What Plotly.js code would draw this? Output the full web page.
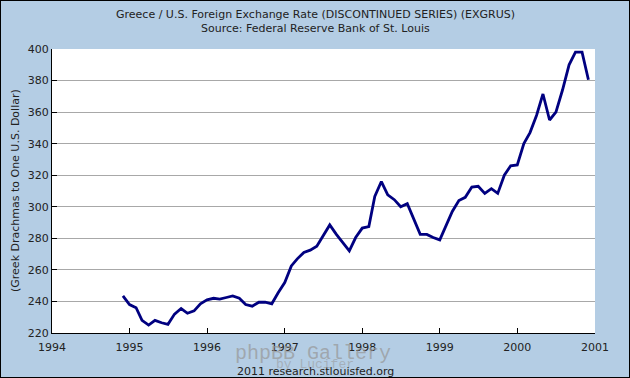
<!DOCTYPE html>
<html>
<head>
<meta charset="utf-8">
<script src="https://cdn.plot.ly/plotly-3.0.1.min.js"></script>
<style>
  html, body { margin: 0; padding: 0; background: #ffffff; }
  #chart { width: 628px; height: 376px; border: 1px solid #000000; }
</style>
</head>
<body>
<div id="chart"></div>
<script>
// Monthly observations, Dec 1994 - Dec 2000
const months = [
  "1994-12-01",
  "1995-01-01","1995-02-01","1995-03-01","1995-04-01","1995-05-01","1995-06-01",
  "1995-07-01","1995-08-01","1995-09-01","1995-10-01","1995-11-01","1995-12-01",
  "1996-01-01","1996-02-01","1996-03-01","1996-04-01","1996-05-01","1996-06-01",
  "1996-07-01","1996-08-01","1996-09-01","1996-10-01","1996-11-01","1996-12-01",
  "1997-01-01","1997-02-01","1997-03-01","1997-04-01","1997-05-01","1997-06-01",
  "1997-07-01","1997-08-01","1997-09-01","1997-10-01","1997-11-01","1997-12-01",
  "1998-01-01","1998-02-01","1998-03-01","1998-04-01","1998-05-01","1998-06-01",
  "1998-07-01","1998-08-01","1998-09-01","1998-10-01","1998-11-01","1998-12-01",
  "1999-01-01","1999-02-01","1999-03-01","1999-04-01","1999-05-01","1999-06-01",
  "1999-07-01","1999-08-01","1999-09-01","1999-10-01","1999-11-01","1999-12-01",
  "2000-01-01","2000-02-01","2000-03-01","2000-04-01","2000-05-01","2000-06-01",
  "2000-07-01","2000-08-01","2000-09-01","2000-10-01","2000-11-01","2000-12-01"
];
const drachmasPerDollar = [
  243.5,
  238, 236, 228, 225, 228, 226.5, 225.5, 232, 235.5, 232.5, 234, 238.5,
  241, 242, 241.5, 242.5, 243.5, 242, 238, 237, 239.5, 239.5, 238.5, 245.5,
  252, 262.5, 267, 271, 272.5, 275, 282, 288.5, 282.5, 277, 272, 280.5,
  286.5, 287.5, 306.5, 316, 307.5, 304.5, 300, 302, 292, 282.5, 282.5, 280.5,
  279, 288, 297, 304, 306, 312.5, 313, 308.5, 311.5, 308.5, 320, 326,
  326.5, 340, 347, 358, 371.5, 355, 360, 374, 390, 398, 398, 380.5
];
const yearTicks = ["1994-01-01","1995-01-01","1996-01-01","1997-01-01","1998-01-01","1999-01-01","2000-01-01","2001-01-01"];
const yearLabels = ["1994","1995","1996","1997","1998","1999","2000","2001"];
const valueTicks = [220, 240, 260, 280, 300, 320, 340, 360, 380, 400];

const titleLine1 = "Greece / U.S. Foreign Exchange Rate (DISCONTINUED SERIES) (EXGRUS)";
const titleLine2 = "Source: Federal Reserve Bank of St. Louis";
const yTitle = "(Greek Drachmas to One U.S. Dollar)";
const credit = "2011 research.stlouisfed.org";
const watermark1 = "phpBB Gallery";
const watermark2 = "by Lucifer";

const FONT = "DejaVu Sans, Verdana, sans-serif";
const BG = "#b4cde4";

const trace = {
  x: months,
  y: drachmasPerDollar,
  type: "scatter",
  mode: "lines",
  line: { color: "#000080", width: 2.8 },
  hoverinfo: "skip"
};

const layout = {
  width: 628,
  height: 376,
  margin: { l: 51, r: 34, t: 48, b: 44 },
  paper_bgcolor: BG,
  plot_bgcolor: "#ffffff",
  showlegend: false,
  font: { family: FONT, size: 11, color: "#222222" },
  xaxis: {
    type: "date",
    range: ["1994-01-01", "2001-01-01"],
    tickmode: "array",
    tickvals: yearTicks,
    ticktext: yearLabels,
    ticks: "inside",
    ticklen: 5,
    tickcolor: "#000000",
    ticklabelstandoff: 4,
    showgrid: false,
    showline: true,
    linecolor: "#000000",
    linewidth: 1,
    zeroline: false,
    tickfont: { family: FONT, size: 11, color: "#222222" },
    fixedrange: true
  },
  yaxis: {
    range: [220, 400],
    tickmode: "array",
    tickvals: valueTicks,
    ticks: "inside",
    ticklen: 5,
    tickcolor: "#000000",
    showgrid: true,
    gridcolor: "#a8a8a8",
    gridwidth: 1,
    showline: true,
    linecolor: "#000000",
    linewidth: 1,
    zeroline: false,
    tickfont: { family: FONT, size: 11, color: "#222222" },
    fixedrange: true
  },
  annotations: [
    { text: titleLine1, xref: "paper", yref: "paper", x: 0.485, y: 1, yshift: 35,
      xanchor: "center", yanchor: "middle", showarrow: false,
      font: { family: FONT, size: 11, color: "#222222" } },
    { text: titleLine2, xref: "paper", yref: "paper", x: 0.485, y: 1, yshift: 21,
      xanchor: "center", yanchor: "middle", showarrow: false,
      font: { family: FONT, size: 11, color: "#222222" } },
    { text: yTitle, xref: "paper", yref: "paper", x: 0, xshift: -37, y: 0.5,
      xanchor: "center", yanchor: "middle", textangle: -90, showarrow: false,
      font: { family: FONT, size: 11, color: "#222222" } },
    { text: watermark1, xref: "paper", yref: "paper", x: 0.48, y: 0, yshift: -20,
      xanchor: "center", yanchor: "middle", showarrow: false,
      font: { family: "Liberation Mono, monospace", size: 20, color: "rgba(150,150,150,0.7)" } },
    { text: watermark2, xref: "paper", yref: "paper", x: 0.485, y: 0, yshift: -31,
      xanchor: "center", yanchor: "middle", showarrow: false,
      font: { family: "Liberation Mono, monospace", size: 13, color: "rgba(150,150,150,0.55)" } },
    { text: credit, xref: "paper", yref: "paper", x: 0.485, y: 0, yshift: -38,
      xanchor: "center", yanchor: "middle", showarrow: false,
      font: { family: FONT, size: 11, color: "#222222" } }
  ]
};

Plotly.newPlot("chart", [trace], layout, { displayModeBar: false, staticPlot: true });
</script>
</body>
</html>
